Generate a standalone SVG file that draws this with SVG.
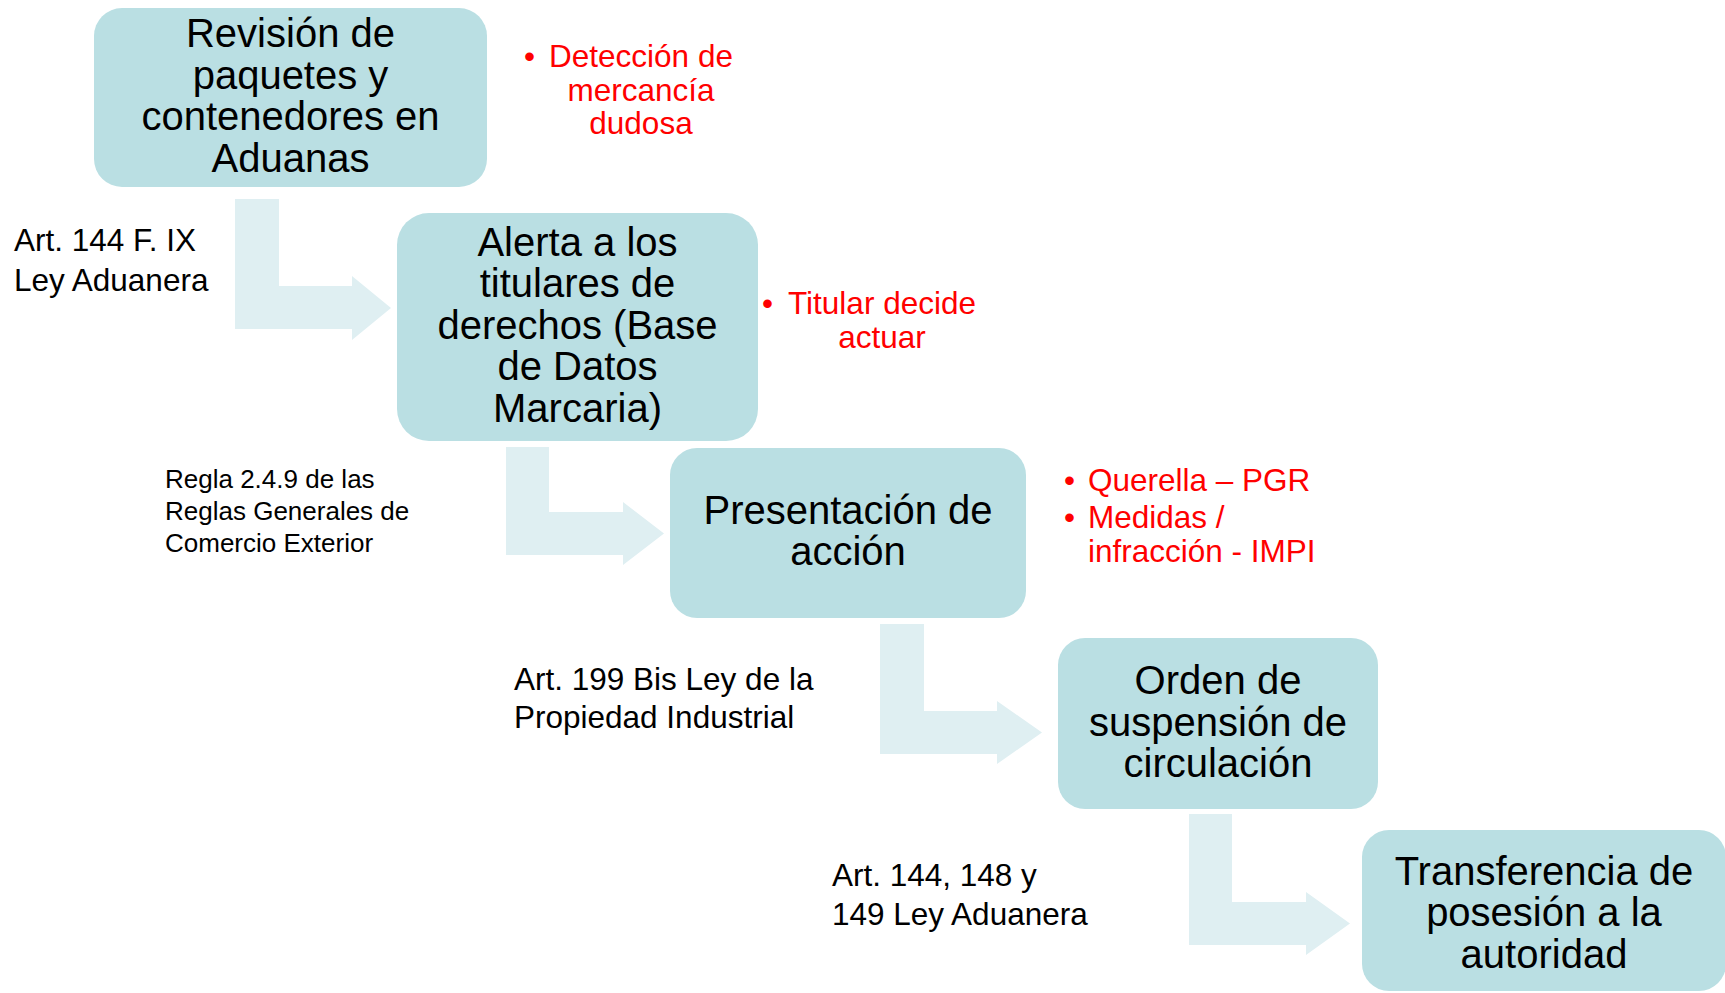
<svg xmlns="http://www.w3.org/2000/svg" width="1725" height="993" viewBox="0 0 1725 993">
<style>
.box{fill:#BADFE3}
.arr{fill:#DFEFF2}
.bt{font-family:"Liberation Sans",Arial,sans-serif;font-size:40px;fill:#000;text-anchor:middle}
.lb{font-family:"Liberation Sans",Arial,sans-serif;font-size:31.5px;fill:#000}
.sm{font-family:"Liberation Sans",Arial,sans-serif;font-size:26px;fill:#000}
.rd{font-family:"Liberation Sans",Arial,sans-serif;font-size:31.5px;fill:#FF0000}
.mid{text-anchor:middle}
</style>
<rect width="1725" height="993" fill="#fff"/>
<g id="connectors">
<polygon class="arr" points="235,199 279,199 279,286 352,286 352,276 391,308 352,340 352,329 235,329"/>
<polygon class="arr" points="506,447 549,447 549,512 623,512 623,502 664,533.5 623,565 623,555 506,555"/>
<polygon class="arr" points="880,624 924,624 924,711 997,711 997,701 1042,732.5 997,764 997,754 880,754"/>
<polygon class="arr" points="1189,814 1232,814 1232,902 1306,902 1306,892 1350,923.5 1306,955 1306,945 1189,945"/>
</g>
<g id="node1">
<rect class="box" x="94" y="8" width="393" height="179" rx="28"/>
<text class="bt" x="290.5" y="47">Revisión de</text>
<text class="bt" x="290.5" y="89">paquetes y</text>
<text class="bt" x="290.5" y="130">contenedores en</text>
<text class="bt" x="290.5" y="172">Aduanas</text>
</g>
<g id="node2">
<rect class="box" x="397" y="213" width="361" height="228" rx="32"/>
<text class="bt" x="577.5" y="256">Alerta a los</text>
<text class="bt" x="577.5" y="297">titulares de</text>
<text class="bt" x="577.5" y="339">derechos (Base</text>
<text class="bt" x="577.5" y="380">de Datos</text>
<text class="bt" x="577.5" y="422">Marcaria)</text>
</g>
<g id="node3">
<rect class="box" x="670" y="448" width="356" height="170" rx="27"/>
<text class="bt" x="848" y="524">Presentación de</text>
<text class="bt" x="848" y="565">acción</text>
</g>
<g id="node4">
<rect class="box" x="1058" y="638" width="320" height="171" rx="27"/>
<text class="bt" x="1218" y="694">Orden de</text>
<text class="bt" x="1218" y="736">suspensión de</text>
<text class="bt" x="1218" y="777">circulación</text>
</g>
<g id="node5">
<rect class="box" x="1362" y="830" width="364" height="161" rx="27"/>
<text class="bt" x="1544" y="885">Transferencia de</text>
<text class="bt" x="1544" y="926">posesión a la</text>
<text class="bt" x="1544" y="968">autoridad</text>
</g>
<g id="labels">
<text class="lb" x="14" y="251">Art. 144 F. IX</text>
<text class="lb" x="14" y="291">Ley Aduanera</text>
<text class="sm" x="165" y="488">Regla 2.4.9 de las</text>
<text class="sm" x="165" y="520">Reglas Generales de</text>
<text class="sm" x="165" y="552">Comercio Exterior</text>
<text class="lb" x="514" y="690">Art. 199 Bis Ley de la</text>
<text class="lb" x="514" y="728">Propiedad Industrial</text>
<text class="lb" x="832" y="886">Art. 144, 148 y</text>
<text class="lb" x="832" y="925">149 Ley Aduanera</text>
</g>
<g id="notes">
<text class="rd" x="524" y="67">•</text>
<text class="rd mid" x="641" y="67">Detección de</text>
<text class="rd mid" x="641" y="101">mercancía</text>
<text class="rd mid" x="641" y="134">dudosa</text>
<text class="rd" x="762" y="314">•</text>
<text class="rd mid" x="882" y="314">Titular decide</text>
<text class="rd mid" x="882" y="348">actuar</text>
<text class="rd" x="1064" y="491">•</text>
<text class="rd" x="1088" y="491">Querella – PGR</text>
<text class="rd" x="1064" y="528">•</text>
<text class="rd" x="1088" y="528">Medidas /</text>
<text class="rd" x="1088" y="562">infracción - IMPI</text>
</g>
</svg>
